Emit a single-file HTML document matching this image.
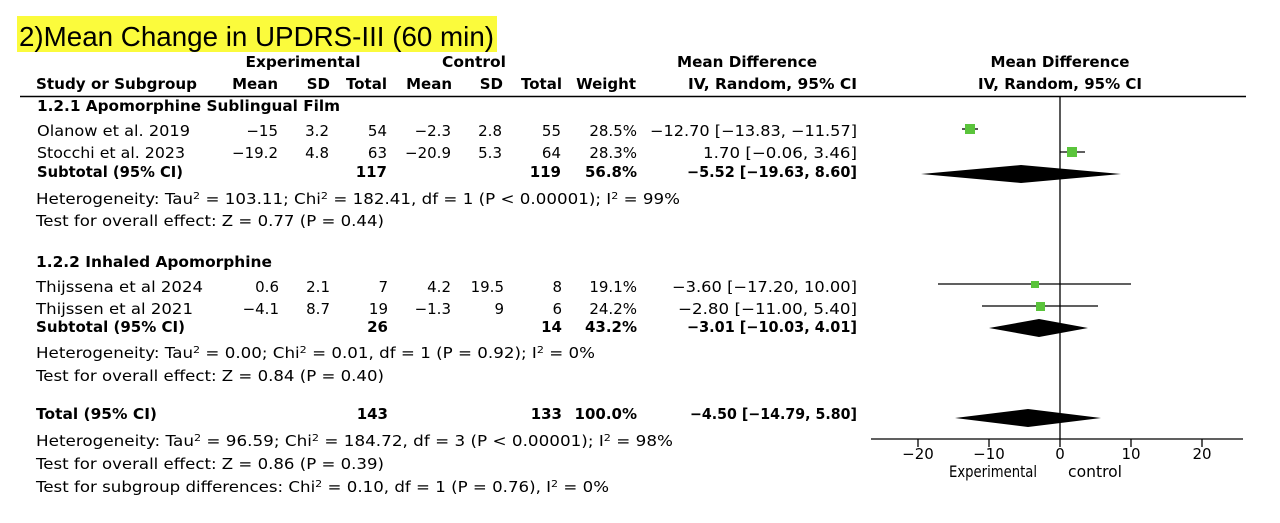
<!DOCTYPE html>
<html><head><meta charset="utf-8"><style>
html,body{margin:0;padding:0;background:#fff;}
svg{display:block;}
text{font-family:"DejaVu Sans",sans-serif;font-size:15px;fill:#000;}
.b{font-weight:bold;}
.e{text-anchor:end;}
.m{text-anchor:middle;}
</style></head><body>
<svg width="1280" height="523" viewBox="0 0 1280 523" xmlns="http://www.w3.org/2000/svg">
<rect x="17" y="16" width="480" height="36" fill="#fbfb3c"/>
<text x="19" y="46" style="font-family:'Liberation Sans',sans-serif;font-size:28px" textLength="475" lengthAdjust="spacingAndGlyphs">2)Mean Change in UPDRS-III (60 min)</text>
<!-- headers -->
<text class="b m" x="303" y="67" textLength="115" lengthAdjust="spacingAndGlyphs">Experimental</text>
<text class="b m" x="474" y="67" textLength="64" lengthAdjust="spacingAndGlyphs">Control</text>
<text class="b m" x="747" y="67" textLength="140" lengthAdjust="spacingAndGlyphs">Mean Difference</text>
<text class="b m" x="1060" y="67" textLength="139" lengthAdjust="spacingAndGlyphs">Mean Difference</text>
<text class="b" x="36" y="89" textLength="161" lengthAdjust="spacingAndGlyphs">Study or Subgroup</text>
<text class="b e" x="278" y="89">Mean</text>
<text class="b e" x="330" y="89">SD</text>
<text class="b e" x="387" y="89">Total</text>
<text class="b e" x="452" y="89">Mean</text>
<text class="b e" x="503" y="89">SD</text>
<text class="b e" x="562" y="89">Total</text>
<text class="b e" x="636" y="89">Weight</text>
<text class="b e" x="857" y="89" textLength="169" lengthAdjust="spacingAndGlyphs">IV, Random, 95% CI</text>
<text class="b m" x="1060" y="89" textLength="164" lengthAdjust="spacingAndGlyphs">IV, Random, 95% CI</text>
<line x1="20" y1="96.5" x2="1246" y2="96.5" stroke="#000" stroke-width="1.5"/>
<!-- group 1 -->
<text class="b" x="37" y="111" textLength="303" lengthAdjust="spacingAndGlyphs">1.2.1 Apomorphine Sublingual Film</text>
<text x="37" y="136" textLength="153" lengthAdjust="spacingAndGlyphs">Olanow et al. 2019</text>
<text class="e" x="278" y="136">−15</text><text class="e" x="329" y="136">3.2</text><text class="e" x="387" y="136">54</text>
<text class="e" x="451" y="136">−2.3</text><text class="e" x="502" y="136">2.8</text><text class="e" x="561" y="136">55</text>
<text class="e" x="637" y="136">28.5%</text><text class="e" x="857" y="136" textLength="207" lengthAdjust="spacingAndGlyphs">−12.70 [−13.83, −11.57]</text>
<text x="37" y="158" textLength="148" lengthAdjust="spacingAndGlyphs">Stocchi et al. 2023</text>
<text class="e" x="278" y="158">−19.2</text><text class="e" x="329" y="158">4.8</text><text class="e" x="387" y="158">63</text>
<text class="e" x="451" y="158">−20.9</text><text class="e" x="502" y="158">5.3</text><text class="e" x="561" y="158">64</text>
<text class="e" x="637" y="158">28.3%</text><text class="e" x="857" y="158" textLength="154" lengthAdjust="spacingAndGlyphs">1.70 [−0.06, 3.46]</text>
<text class="b" x="37" y="177" textLength="146" lengthAdjust="spacingAndGlyphs">Subtotal (95% CI)</text>
<text class="b e" x="387" y="177">117</text><text class="b e" x="561" y="177">119</text>
<text class="b e" x="637" y="177">56.8%</text><text class="b e" x="857" y="177" textLength="170" lengthAdjust="spacingAndGlyphs">−5.52 [−19.63, 8.60]</text>
<text x="36" y="204" textLength="644" lengthAdjust="spacingAndGlyphs">Heterogeneity: Tau<tspan dy="-5" style="font-size:10px">2</tspan><tspan dy="5"> = 103.11; Chi</tspan><tspan dy="-5" style="font-size:10px">2</tspan><tspan dy="5"> = 182.41, df = 1 (P &lt; 0.00001); I</tspan><tspan dy="-5" style="font-size:10px">2</tspan><tspan dy="5"> = 99%</tspan></text>
<text x="36" y="226" textLength="348" lengthAdjust="spacingAndGlyphs">Test for overall effect: Z = 0.77 (P = 0.44)</text>
<!-- group 2 -->
<text class="b" x="36" y="267" textLength="236" lengthAdjust="spacingAndGlyphs">1.2.2 Inhaled Apomorphine</text>
<text x="36" y="292" textLength="167" lengthAdjust="spacingAndGlyphs">Thijssena et al 2024</text>
<text class="e" x="279" y="292">0.6</text><text class="e" x="330" y="292">2.1</text><text class="e" x="388" y="292">7</text>
<text class="e" x="451" y="292">4.2</text><text class="e" x="504" y="292">19.5</text><text class="e" x="562" y="292">8</text>
<text class="e" x="637" y="292">19.1%</text><text class="e" x="857" y="292" textLength="185" lengthAdjust="spacingAndGlyphs">−3.60 [−17.20, 10.00]</text>
<text x="36" y="314" textLength="157" lengthAdjust="spacingAndGlyphs">Thijssen et al 2021</text>
<text class="e" x="279" y="314">−4.1</text><text class="e" x="330" y="314">8.7</text><text class="e" x="388" y="314">19</text>
<text class="e" x="451" y="314">−1.3</text><text class="e" x="504" y="314">9</text><text class="e" x="562" y="314">6</text>
<text class="e" x="637" y="314">24.2%</text><text class="e" x="857" y="314" textLength="179" lengthAdjust="spacingAndGlyphs">−2.80 [−11.00, 5.40]</text>
<text class="b" x="36" y="332" textLength="149" lengthAdjust="spacingAndGlyphs">Subtotal (95% CI)</text>
<text class="b e" x="388" y="332">26</text><text class="b e" x="562" y="332">14</text>
<text class="b e" x="637" y="332">43.2%</text><text class="b e" x="857" y="332" textLength="170" lengthAdjust="spacingAndGlyphs">−3.01 [−10.03, 4.01]</text>
<text x="36" y="358" textLength="559" lengthAdjust="spacingAndGlyphs">Heterogeneity: Tau<tspan dy="-5" style="font-size:10px">2</tspan><tspan dy="5"> = 0.00; Chi</tspan><tspan dy="-5" style="font-size:10px">2</tspan><tspan dy="5"> = 0.01, df = 1 (P = 0.92); I</tspan><tspan dy="-5" style="font-size:10px">2</tspan><tspan dy="5"> = 0%</tspan></text>
<text x="36" y="381" textLength="348" lengthAdjust="spacingAndGlyphs">Test for overall effect: Z = 0.84 (P = 0.40)</text>
<!-- total -->
<text class="b" x="36" y="419" textLength="121" lengthAdjust="spacingAndGlyphs">Total (95% CI)</text>
<text class="b e" x="388" y="419">143</text><text class="b e" x="562" y="419">133</text>
<text class="b e" x="637" y="419">100.0%</text><text class="b e" x="857" y="419" textLength="167" lengthAdjust="spacingAndGlyphs">−4.50 [−14.79, 5.80]</text>
<text x="36" y="446" textLength="637" lengthAdjust="spacingAndGlyphs">Heterogeneity: Tau<tspan dy="-5" style="font-size:10px">2</tspan><tspan dy="5"> = 96.59; Chi</tspan><tspan dy="-5" style="font-size:10px">2</tspan><tspan dy="5"> = 184.72, df = 3 (P &lt; 0.00001); I</tspan><tspan dy="-5" style="font-size:10px">2</tspan><tspan dy="5"> = 98%</tspan></text>
<text x="36" y="469" textLength="348" lengthAdjust="spacingAndGlyphs">Test for overall effect: Z = 0.86 (P = 0.39)</text>
<text x="36" y="492" textLength="573" lengthAdjust="spacingAndGlyphs">Test for subgroup differences: Chi<tspan dy="-5" style="font-size:10px">2</tspan><tspan dy="5"> = 0.10, df = 1 (P = 0.76), I</tspan><tspan dy="-5" style="font-size:10px">2</tspan><tspan dy="5"> = 0%</tspan></text>
<!-- plot -->
<g stroke="#000" stroke-width="1.3">
<line x1="1060" y1="97" x2="1060" y2="439"/>
<line x1="871" y1="439" x2="1243" y2="439"/>
<line x1="918" y1="439" x2="918" y2="447"/>
<line x1="989" y1="439" x2="989" y2="447"/>
<line x1="1060" y1="439" x2="1060" y2="447"/>
<line x1="1131" y1="439" x2="1131" y2="447"/>
<line x1="1202" y1="439" x2="1202" y2="447"/>
<line x1="962" y1="129" x2="978" y2="129"/>
<line x1="1060" y1="152" x2="1085" y2="152"/>
<line x1="938" y1="284" x2="1131" y2="284"/>
<line x1="982" y1="306" x2="1098" y2="306"/>
</g>
<g fill="#5ac43b">
<rect x="965" y="124" width="10" height="10"/>
<rect x="1067" y="147" width="10" height="10"/>
<rect x="1031" y="281" width="8" height="7"/>
<rect x="1036" y="302" width="9" height="9"/>
</g>
<g fill="#000">
<polygon points="921,174 1021,165 1121,174 1021,183"/>
<polygon points="989,328 1039,319 1088,328 1039,337"/>
<polygon points="955,418 1028,409 1101,418 1028,427"/>
</g>
<text class="m" x="918" y="459">−20</text>
<text class="m" x="989" y="459">−10</text>
<text class="m" x="1060" y="459">0</text>
<text class="m" x="1131" y="459">10</text>
<text class="m" x="1202" y="459">20</text>
<text x="949" y="477" style="font-size:16px" textLength="88" lengthAdjust="spacingAndGlyphs">Experimental</text>
<text x="1068" y="477" style="font-size:16px" textLength="54" lengthAdjust="spacingAndGlyphs">control</text>
</svg>
</body></html>
